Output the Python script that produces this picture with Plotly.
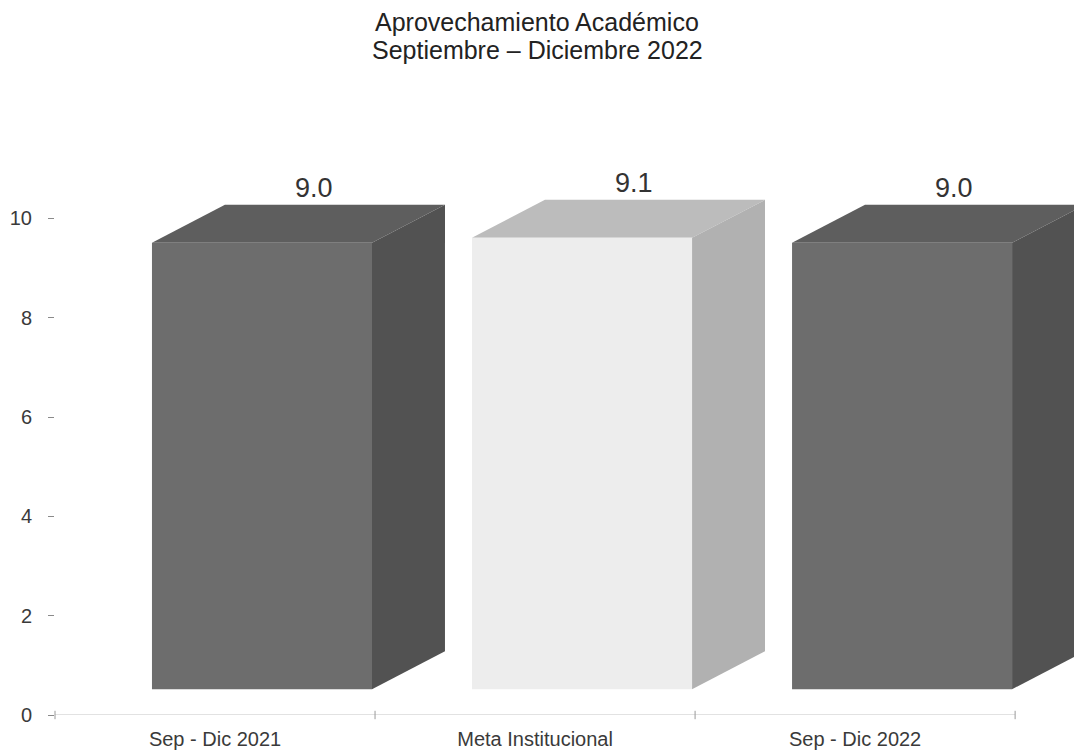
import plotly.graph_objects as go

# ---- data ----
categories = ["Sep - Dic 2021", "Meta Institucional", "Sep - Dic 2022"]
values = [9.0, 9.1, 9.0]
value_labels = ["9.0", "9.1", "9.0"]
y_ticks = [0, 2, 4, 6, 8, 10]
title_lines = ["Aprovechamiento Académico", "Septiembre – Diciembre 2022"]

# ---- style (3D look) ----
front_colors = ["#6d6d6d", "#ededed", "#6d6d6d"]
side_colors = ["#525252", "#b1b1b1", "#525252"]
top_colors = ["#5e5e5e", "#bcbcbc", "#5e5e5e"]
FRONT_OFF = -0.197   # front face left edge relative to category center
WIDTH = 0.6875       # front face width (x units)
DX = 0.228           # depth offset (x units)
DY = 0.765           # depth offset (y units)
FLOOR = 0.52         # front face base
LIFT = 0.51          # perspective lift of front top
LABEL_DX = 0.31
FONT = "Liberation Sans, Arial, sans-serif"

fig = go.Figure()

for i, (cat, v) in enumerate(zip(categories, values)):
    x0 = i + FRONT_OFF
    x1 = x0 + WIDTH
    yb = FLOOR
    yt = v + LIFT
    # top face
    fig.add_trace(go.Scatter(
        x=[x0, x0 + DX, x1 + DX, x1, x0],
        y=[yt, yt + DY, yt + DY, yt, yt],
        mode="lines", fill="toself", fillcolor=top_colors[i],
        line=dict(width=0), hoverinfo="skip", showlegend=False))
    # side face
    fig.add_trace(go.Scatter(
        x=[x1, x1 + DX, x1 + DX, x1, x1],
        y=[yb, yb + DY, yt + DY, yt, yb],
        mode="lines", fill="toself", fillcolor=side_colors[i],
        line=dict(width=0), hoverinfo="skip", showlegend=False))
    # front face
    fig.add_trace(go.Scatter(
        x=[x0, x1, x1, x0, x0],
        y=[yb, yb, yt, yt, yb],
        mode="lines", fill="toself", fillcolor=front_colors[i],
        line=dict(width=0), hoverinfo="skip", showlegend=False,
        name=cat))
    fig.add_annotation(
        x=i + LABEL_DX, y=yt + DY, text=value_labels[i],
        showarrow=False, yanchor="bottom", yshift=0,
        font=dict(family=FONT, size=27, color="#333333"))

# baseline (x axis) and category boundary ticks
n = len(categories)
fig.add_trace(go.Scatter(
    x=[-0.5, n - 0.5], y=[0, 0], mode="lines",
    line=dict(color="#c4c4c4", width=1), hoverinfo="skip", showlegend=False))
fig.add_trace(go.Scatter(
    x=[k + 0.5 for k in range(-1, n)], y=[0] * (n + 1), mode="markers",
    marker=dict(symbol="line-ns-open", size=6, color="#9a9a9a",
                line=dict(color="#9a9a9a", width=1)),
    cliponaxis=False, hoverinfo="skip", showlegend=False))

# title (two centred lines)
title_y = [1 + (144 - 22) / 571, 1 + (144 - 50) / 571]
for line, ty in zip(title_lines, title_y):
    fig.add_annotation(
        x=(537 - 55) / 1019, y=ty, xref="paper", yref="paper",
        text=line, showarrow=False, xanchor="center", yanchor="middle",
        font=dict(family=FONT, size=25, color="#222222"))

fig.update_layout(
    width=1074, height=755,
    margin=dict(l=55, r=0, t=144, b=40),
    paper_bgcolor="white", plot_bgcolor="white",
    showlegend=False,
    font=dict(family=FONT, color="#333333"),
    xaxis=dict(
        range=[-0.5, 2.684], tickvals=list(range(n)), ticktext=categories,
        showgrid=False, zeroline=False, showline=False, ticks="",
        tickfont=dict(size=20, color="#3a3a3a"), ticklabelstandoff=10,
        fixedrange=True),
    yaxis=dict(
        range=[0, 11.5], tickvals=y_ticks, ticktext=[str(t) for t in y_ticks],
        showgrid=False, zeroline=False, showline=False,
        ticks="outside", ticklen=6, tickcolor="#8a8a8a", tickwidth=1,
        tickfont=dict(size=20, color="#3a3a3a"), ticklabelstandoff=12,
        fixedrange=True),
)

fig.write_html("out.html", config={"displayModeBar": False},
               post_script="document.body.style.margin='0';")
